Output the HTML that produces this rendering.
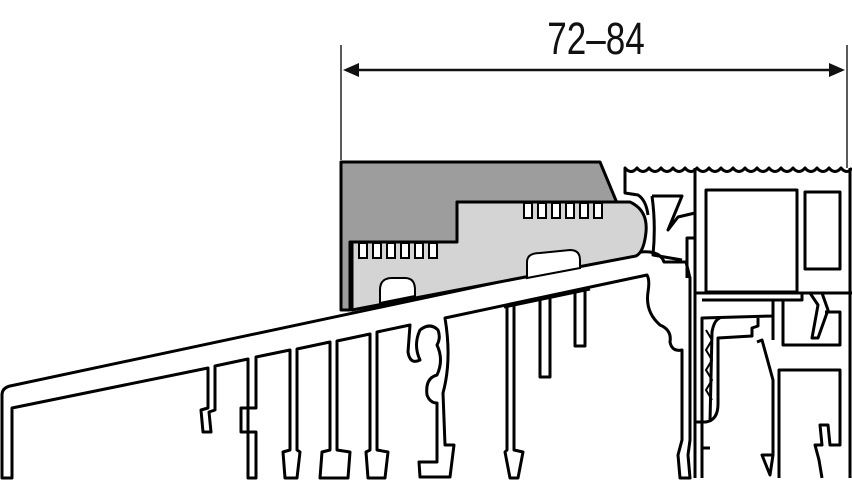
<!DOCTYPE html>
<html><head><meta charset="utf-8"><style>
html,body{margin:0;padding:0;background:#fff;width:852px;height:480px;overflow:hidden}
svg{display:block}
</style></head><body>
<svg width="852" height="480" viewBox="0 0 852 480" xmlns="http://www.w3.org/2000/svg">
<!-- dimension -->
<line x1="341" y1="45" x2="341" y2="160" stroke="#222" stroke-width="1.5"/>
<line x1="847" y1="45" x2="847" y2="168" stroke="#222" stroke-width="1.5"/>
<line x1="350" y1="70" x2="838" y2="70" stroke="#111" stroke-width="2.5"/>
<path d="M359,63 L343,70 L359,77 Z M829,63 L845,70 L829,77 Z" fill="#111"/>
<text x="596" y="54" font-family="Liberation Sans Narrow, Liberation Sans, sans-serif" font-size="45" text-anchor="middle" fill="#111" transform="translate(596,0) scale(0.78,1) translate(-596,0)">72–84</text>

<!-- main slanted profile -->
<g stroke="#000" stroke-width="3" fill="#fff" stroke-linejoin="round">
<path d="M2,478 L2,395 Q2,388 10,386 L640,252 Q660,250 664,262 L686,262 L690,278 L690,440 L688,455 L690,478 L680,478 L678,455 L682,440 L682,350 Q672,352 670,342 Q672,330 660,325 Q645,312 648,292 Q650,280 647,275 L445,318 Q452,360 443,393 L445,445 L454,445 L450,477 L420,477 L419,462 L437,462 L437,403 Q430,403 427,395 Q425,378 437,375 Q444,360 437,345 Q441,338 438,330 Q430,322 420,330 Q413,345 420,360 Q410,365 408,352 L410,325 L377,332 L377,450 L388,452 L385,478 L368,478 L366,452 L370,450 L370,334 L337,341 L337,450 L350,452 L348,478 L320,478 L322,452 L330,450 L330,342 L297,349 L297,450 L300,452 L297,478 L285,478 L283,452 L290,450 L290,350 L256,357 L256,408 L241,408 L241,432 L256,432 L256,478 L248,478 L248,359 L215,366 L215,410 L209,412 L211,432 L203,432 L201,410 L208,408 L208,368 L12,408 L12,478 Z"/>
</g>
<!-- legs on right half -->
<g stroke="#000" stroke-width="3" fill="#fff" stroke-linejoin="round">
<path d="M507,307 L507,450 L505,452 L510,478 L518,478 L523,452 L514,450 L514,305"/>
<path d="M540,299 L540,377 L550,377 L550,297"/>
<path d="M575,291 L575,346 L585,346 L585,289"/>
</g>
<line x1="504" y1="307" x2="590" y2="289" stroke="#000" stroke-width="3"/>

<!-- gray pieces -->
<g stroke="#000" stroke-width="3" stroke-linejoin="round" fill="none">
<path d="M341,162 L600,162 L617,203 L457,202 L457,242 L350,242 L350,310 L341,310 Z" fill="#9d9d9d"/>
<path d="M352,242 L457,242 L457,202 L630,202 Q648,210 646,232 Q644,252 636,256 L352,310 Z" fill="#d4d4d4"/>
</g>
<g fill="#fff" stroke="#000" stroke-width="2">
<rect x="359" y="243" width="8" height="15"/><rect x="373" y="243" width="8" height="15"/><rect x="387" y="243" width="8" height="15"/><rect x="401" y="243" width="8" height="15"/><rect x="415" y="243" width="8" height="15"/><rect x="429" y="243" width="8" height="15"/>
<rect x="524" y="203" width="8" height="15"/><rect x="538" y="203" width="8" height="15"/><rect x="552" y="203" width="8" height="15"/><rect x="566" y="203" width="8" height="15"/><rect x="580" y="203" width="8" height="15"/><rect x="594" y="203" width="8" height="15"/>
<path d="M380,303 L380,290 Q380,278 392,278 L405,278 Q415,278 415,290 L415,296 Z"/>
<path d="M527,278 L527,262 Q527,253 540,253 L570,250 Q580,250 580,260 L580,268 Z"/>
</g>

<!-- right frame -->
<g stroke="#000" stroke-width="3" fill="none" stroke-linejoin="round">
<path d="M852,168 Q847,175 841,168 Q835,175 829,168 Q823,175 817,168 Q811,175 805,168 Q799,175 793,168 Q787,175 781,168 Q775,175 769,168 Q763,175 757,168 Q751,175 745,168 Q739,175 733,168 Q727,175 721,168 Q715,175 709,168 Q703,175 697,168 Q691,175 685,168 Q679,175 673,168 Q667,175 661,168 Q655,175 649,168 Q643,175 637,168 Q631,175 625,168 L625,193 L638,195 Q646,200 648,215"/>
<path d="M652,196 L682,196 L668,230 L678,217 L695,213"/>
<path d="M652,196 Q656,225 653,255 L682,260"/>
<path d="M687,278 L687,238 L695,238"/>
<line x1="695" y1="168" x2="695" y2="478"/>
<line x1="695" y1="293" x2="852" y2="293"/>
<line x1="850" y1="168" x2="850" y2="478"/>
<rect x="706" y="190" width="91" height="102" fill="#fff"/>
<rect x="805" y="192" width="35" height="77" fill="#fff"/>
<path d="M702,478 L702,318 L773,316 L773,300 L802,300 L802,293"/>
<path d="M702,300 L773,300"/>
<path d="M702,478 L702,448 L710,448"/>
<path d="M710,422 L712,332 Q714,320 720,318"/>
<path d="M718,404 L718,338 L752,336 L752,328 L758,326 L758,318"/>
<path d="M718,404 Q718,420 706,422 L695,422"/>
<path d="M757,342 L762,340 L773,380 L773,455 L770,475 L762,455 L773,455"/>
<path d="M773,316 L773,340"/>
<path d="M783,300 L783,345 L840,345 L840,312 L825,312"/>
<path d="M810,293 L818,305 L812,338 L818,338 L828,310 L822,293"/>
<path d="M779,478 L779,370 L840,370 L840,445 L830,445 L828,425 L820,425 L822,445 L815,445 L819,460 L822,478"/>
</g>
<path d="M706,330 L712,340 L706,350 L712,360 L706,370 L712,380 L706,390 L712,400" stroke="#000" stroke-width="2" fill="none"/>
</svg>
</body></html>
